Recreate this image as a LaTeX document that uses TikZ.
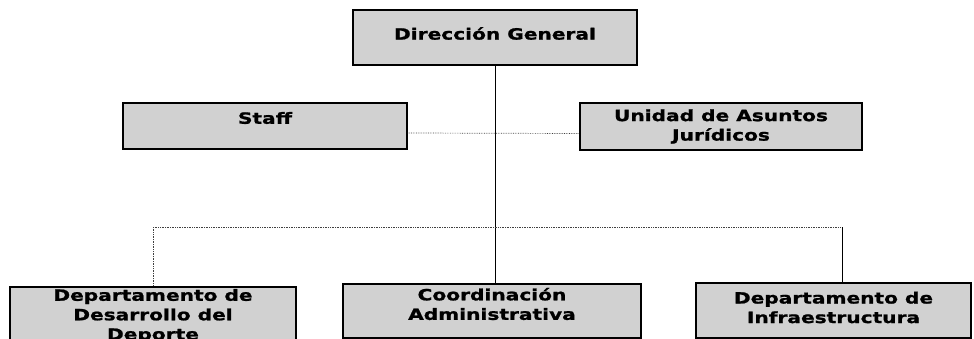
\documentclass[tikz,border=0pt]{standalone}
\usepackage{fontspec}
\newfontfamily\orgfont{DejaVu Sans}[FakeStretch=1.3,FakeBold=1.2]
\usetikzlibrary{positioning,calc}
\newcommand\uptext[2]{\raisebox{#1}[\height][\depth]{#2}}

\begin{document}
\begin{tikzpicture}[x=1pt,y=-1pt,
   unit/.style={rectangle,draw=black,line width=1.4pt,fill=black!18,align=center,inner sep=0pt,
      font=\orgfont\bfseries\fontsize{15.5}{19.5}\selectfont},
   link/.style={black,line width=0.7pt},
   dotlink/.style={black!75,line width=0.7pt,densely dotted}]
\clip (0,0) rectangle (974,339);
\path   (495,37.5)  node (dir)    [unit,minimum width=284pt,minimum height=55pt] {\uptext{4pt}{Dirección General}}
        (265,126)   node (staff)  [unit,minimum width=284pt,minimum height=46pt] {\uptext{8pt}{Staff}}
        (721,126.5) node (unidad) [unit,minimum width=282pt,minimum height=47pt] {Unidad de Asuntos\\Jurídicos}
        (153,316)   node (dep)    [unit,minimum width=286pt,minimum height=58pt] {Departamento de\\Desarrollo del\\Deporte}
        (492,311)   node (coord)  [unit,minimum width=298pt,minimum height=54pt] {\uptext{7pt}{Coordinación}\\\uptext{7pt}{Administrativa}}
        (833.5,310.5) node (infra) [unit,minimum width=275pt,minimum height=55pt] {\uptext{3pt}{Departamento de}\\\uptext{3pt}{Infraestructura}};
\coordinate (busL) at (153,227);
\coordinate (busR) at (842,227);
% lineas
\draw [link] (dir.south) -- (dir.south |- coord.north);
\draw [dotlink] ([yshift=-7pt]staff.east) -- ([yshift=-7pt]unidad.west);
\draw [dotlink] (busL) -- (busR);
\draw [dotlink] (busL) -- (busL |- dep.north);
\draw [link] (busR) -- (busR |- infra.north);
\end{tikzpicture}
\end{document}
